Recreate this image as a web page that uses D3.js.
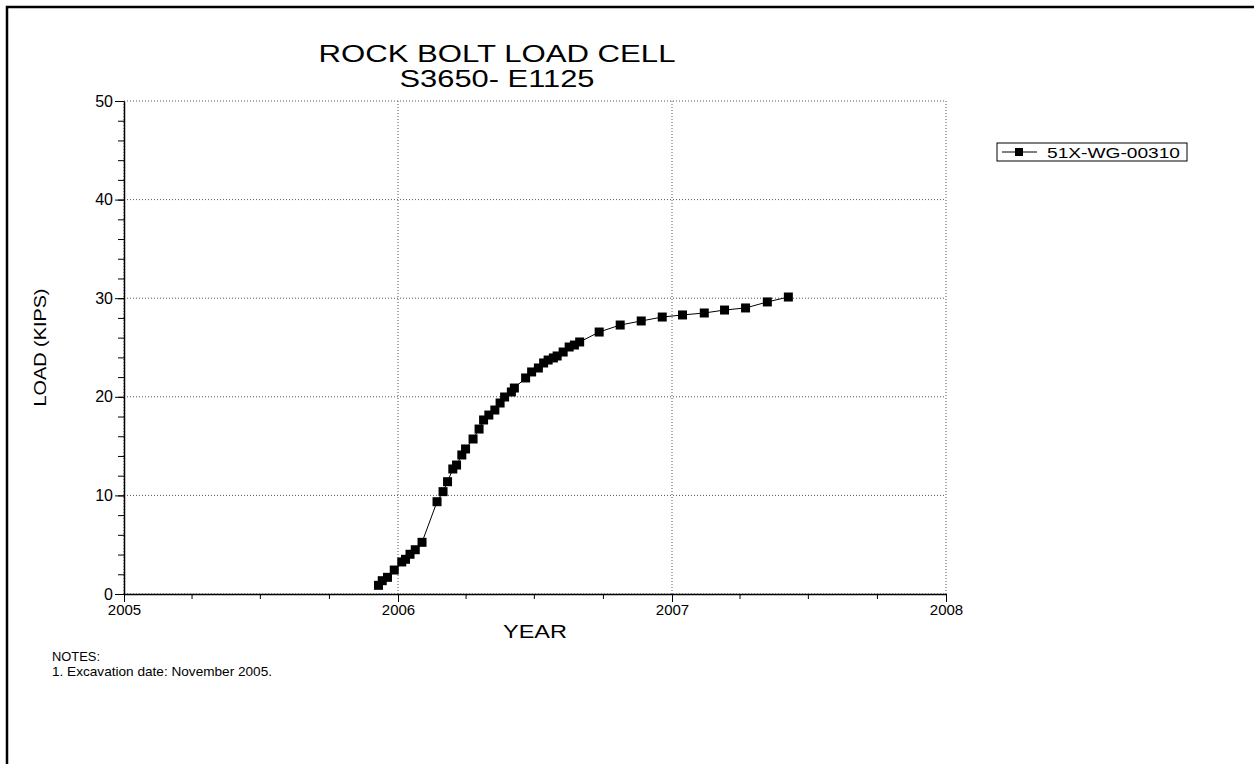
<!DOCTYPE html>
<html>
<head>
<meta charset="utf-8">
<script src="https://cdnjs.cloudflare.com/ajax/libs/d3/7.8.5/d3.min.js"></script>
<style>
body { margin: 0; background: #fff; }
text { font-family: Arial, "Liberation Sans", sans-serif; fill: #000; }
</style>
</head>
<body>
<div id="chart"></div>
<script>
var svgWidth = 1254;
var svgHeight = 764;

// readings off the load cell
var dates = ["2005-12-06","2005-12-11","2005-12-18","2005-12-27","2006-01-06","2006-01-11","2006-01-17","2006-01-24",
    "2006-02-02","2006-02-22","2006-03-02","2006-03-08","2006-03-15","2006-03-20","2006-03-27","2006-04-01",
    "2006-04-11","2006-04-19","2006-04-25","2006-05-02","2006-05-10","2006-05-17","2006-05-23","2006-06-01",
    "2006-06-05","2006-06-20","2006-06-28","2006-07-07","2006-07-14","2006-07-20","2006-07-27","2006-08-01",
    "2006-08-09","2006-08-17","2006-08-24","2006-08-31","2006-09-26","2006-10-24","2006-11-21","2006-12-19",
    "2007-01-15","2007-02-13","2007-03-12","2007-04-09","2007-05-08","2007-06-05"];
var loads = [0.88,1.35,1.69,2.43,3.25,3.52,4.03,4.49,
    5.24,9.36,10.38,11.39,12.68,13.08,14.10,14.71,
    15.72,16.73,17.65,18.15,18.66,19.37,19.98,20.49,
    20.89,21.91,22.52,22.92,23.43,23.73,23.94,24.14,
    24.54,25.05,25.25,25.56,26.57,27.28,27.69,28.09,
    28.30,28.50,28.80,29.01,29.62,30.12];

var seriesName = "51X-WG-00310";
var titleLines = ["ROCK BOLT LOAD CELL", "S3650- E1125"];
var yTicks = [0, 10, 20, 30, 40, 50];
var xTickYears = [2005, 2006, 2007, 2008];
var notes = ["NOTES:", "1. Excavation date: November 2005."];

var margin = {top: 101, left: 124, right: 308, bottom: 170};
var width = svgWidth - margin.left - margin.right;
var height = svgHeight - margin.top - margin.bottom;

var parseDate = d3.timeParse("%Y-%m-%d");
var data = dates.map(function(d, i){ return {date: parseDate(d), load: loads[i]}; });

var svg = d3.select("#chart").append("svg").attr("width", svgWidth).attr("height", svgHeight);

// page frame
svg.append("rect").attr("x", 7).attr("y", 7).attr("width", 1400).attr("height", 900)
    .attr("fill", "none").attr("stroke", "#000").attr("stroke-width", 2.5);

var chartGroup = svg.append("g").attr("transform", `translate(${margin.left},${margin.top})`);

var xScale = d3.scaleTime().domain([new Date(2005, 0, 1), new Date(2008, 0, 1)]).range([0, width]);
var yScale = d3.scaleLinear().domain([0, 50]).range([height, 0]);

// grid
chartGroup.append("g").selectAll("line").data(yTicks).enter().append("line")
    .attr("x1", 0).attr("x2", width).attr("y1", d => yScale(d)).attr("y2", d => yScale(d))
    .attr("stroke", "#555").attr("stroke-width", 1).attr("stroke-dasharray", "1,2");
chartGroup.append("g").selectAll("line").data(xTickYears).enter().append("line")
    .attr("x1", d => xScale(new Date(d, 0, 1))).attr("x2", d => xScale(new Date(d, 0, 1)))
    .attr("y1", 0).attr("y2", height)
    .attr("stroke", "#555").attr("stroke-width", 1).attr("stroke-dasharray", "1,2");

// minor ticks
var leftMinor = d3.axisLeft(yScale).ticks(25).tickSize(6).tickFormat("");
chartGroup.append("g").call(leftMinor).call(g => g.select(".domain").remove());
var bottomMinor = d3.axisBottom(xScale).ticks(d3.timeMonth.every(3)).tickSize(5).tickFormat("");
chartGroup.append("g").attr("transform", `translate(0,${height})`).call(bottomMinor).call(g => g.select(".domain").remove());

// major axes
var leftAxis = d3.axisLeft(yScale).tickValues(yTicks).tickSize(9).tickSizeOuter(0).tickPadding(2);
var yAxis = chartGroup.append("g").call(leftAxis);
yAxis.selectAll("text").attr("font-size", "16px").attr("font-family", "Arial, 'Liberation Sans', sans-serif");

var bottomAxis = d3.axisBottom(xScale).tickValues(xTickYears.map(d => new Date(d, 0, 1)))
    .tickFormat(d3.timeFormat("%Y")).tickSize(8).tickSizeOuter(0).tickPadding(2);
var xAxis = chartGroup.append("g").attr("transform", `translate(0,${height})`).call(bottomAxis);
xAxis.selectAll("text").attr("font-size", "15px").attr("font-family", "Arial, 'Liberation Sans', sans-serif");
chartGroup.selectAll(".domain").attr("stroke-width", 1.5);

// series
var line = d3.line().x(d => xScale(d.date)).y(d => yScale(d.load));
chartGroup.append("path").datum(data).attr("d", line).attr("fill", "none").attr("stroke", "#000").attr("stroke-width", 1);
chartGroup.selectAll(".pt").data(data).enter().append("rect").attr("class", "pt")
    .attr("x", d => xScale(d.date) - 4.5).attr("y", d => yScale(d.load) - 4.5)
    .attr("width", 9).attr("height", 9).attr("fill", "#000");

// titles (the original type is stretched wide)
svg.append("text").attr("x", 497).attr("y", 62).attr("text-anchor", "middle").attr("font-size", "23px")
    .attr("textLength", 357).attr("lengthAdjust", "spacingAndGlyphs").text(titleLines[0]);
svg.append("text").attr("x", 497).attr("y", 87).attr("text-anchor", "middle").attr("font-size", "23px")
    .attr("textLength", 195).attr("lengthAdjust", "spacingAndGlyphs").text(titleLines[1]);

svg.append("text").attr("x", margin.left + width / 2).attr("y", 638).attr("text-anchor", "middle").attr("font-size", "18px")
    .attr("textLength", 64).attr("lengthAdjust", "spacingAndGlyphs").text("YEAR");
svg.append("text").attr("transform", `translate(46,${margin.top + height / 2}) rotate(-90)`)
    .attr("text-anchor", "middle").attr("font-size", "17px")
    .attr("textLength", 118).attr("lengthAdjust", "spacingAndGlyphs").text("LOAD (KIPS)");

// legend
var legend = svg.append("g").attr("transform", "translate(997,143)");
legend.append("rect").attr("x", 0).attr("y", 0).attr("width", 190).attr("height", 18)
    .attr("fill", "#fff").attr("stroke", "#000").attr("stroke-width", 1);
legend.append("line").attr("x1", 5).attr("x2", 40).attr("y1", 9).attr("y2", 9).attr("stroke", "#000");
legend.append("rect").attr("x", 18).attr("y", 5).attr("width", 8).attr("height", 8).attr("fill", "#000");
legend.append("text").attr("x", 50).attr("y", 14.5).attr("font-size", "15px")
    .attr("textLength", 133).attr("lengthAdjust", "spacingAndGlyphs").text(seriesName);

// notes
svg.selectAll(".note").data(notes).enter().append("text").attr("class", "note")
    .attr("x", 52).attr("y", (d, i) => 661 + i * 15).attr("font-size", "13px")
    .attr("textLength", (d, i) => i === 0 ? 48 : 220).attr("lengthAdjust", "spacingAndGlyphs").text(d => d);
</script>
</body>
</html>
